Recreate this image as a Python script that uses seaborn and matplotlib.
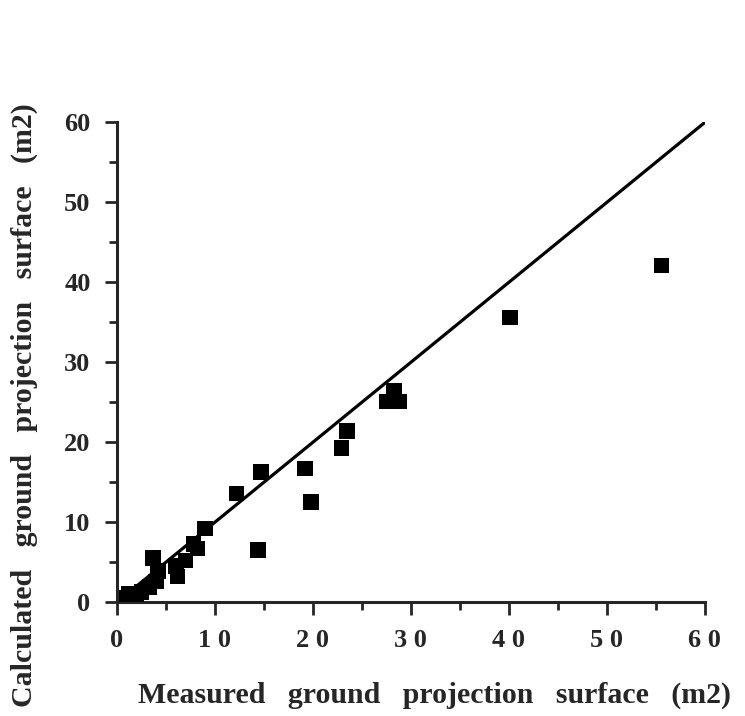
import pandas as pd
import matplotlib
matplotlib.use("Agg")
import matplotlib.pyplot as plt
from matplotlib.ticker import MultipleLocator
import seaborn as sns

# data
measured = [55.6, 40.1, 28.3, 27.5, 28.8, 23.5, 22.9, 19.2, 19.8, 14.7, 12.2,
            14.4, 9.0, 8.2, 7.8, 7.0, 6.0, 6.2, 3.7, 4.2, 4.0, 3.3, 2.5, 1.2,
            2.0, 1.0]
calculated = [42.1, 35.6, 26.5, 25.1, 25.1, 21.4, 19.3, 16.7, 12.5, 16.3, 13.6,
              6.5, 9.2, 6.7, 7.3, 5.2, 4.5, 3.2, 5.5, 3.9, 2.6, 1.9, 1.3, 1.0,
              0.8, 0.6]
line_x = [0, 60]
line_y = [0, 60]
xtick_vals = [0, 10, 20, 30, 40, 50, 60]
xtick_labels = ['0', '1 0', '2 0', '3 0', '4 0', '5 0', '6 0']
ytick_vals = [0, 10, 20, 30, 40, 50, 60]

df = pd.DataFrame({'measured': measured, 'calculated': calculated})

sns.set_style("ticks")
plt.rcParams['font.family'] = ['Liberation Serif', 'DejaVu Serif']
plt.rcParams['font.weight'] = 'bold'

fig = plt.figure(figsize=(7.45, 7.16), dpi=100)
ax = fig.add_axes([0.157, 0.159, 0.789, 0.670])

sns.lineplot(x=line_x, y=line_y, ax=ax, color='black', linewidth=2.3)
sns.scatterplot(data=df, x='measured', y='calculated', ax=ax, marker='s',
                s=125, color='black', edgecolor='none', zorder=3)

ax.set_xlim(0, 60)
ax.set_ylim(0, 60)
ax.set_xticks(xtick_vals)
ax.set_xticklabels(xtick_labels)
ax.set_yticks(ytick_vals)
ax.xaxis.set_minor_locator(MultipleLocator(5))
ax.yaxis.set_minor_locator(MultipleLocator(5))
ax.tick_params(which='major', direction='out', length=9, width=2,
               labelsize=19, pad=10)
ax.tick_params(which='minor', direction='out', length=6, width=2)
for lab in ax.get_xticklabels() + ax.get_yticklabels():
    lab.set_fontweight('bold')

sns.despine(ax=ax)
for sp in ['left', 'bottom']:
    ax.spines[sp].set_linewidth(2.2)

ax.set_xlabel('Measured   ground   projection   surface   (m2)', fontsize=21.5,
              fontweight='bold')
ax.set_ylabel('Calculated   ground   projection   surface   (m2)', fontsize=21.5,
              fontweight='bold')
ax.xaxis.set_label_coords(0.54, -0.165)
ax.yaxis.set_label_coords(-0.135, 0.41)

fig.savefig('out.png', dpi=100)
